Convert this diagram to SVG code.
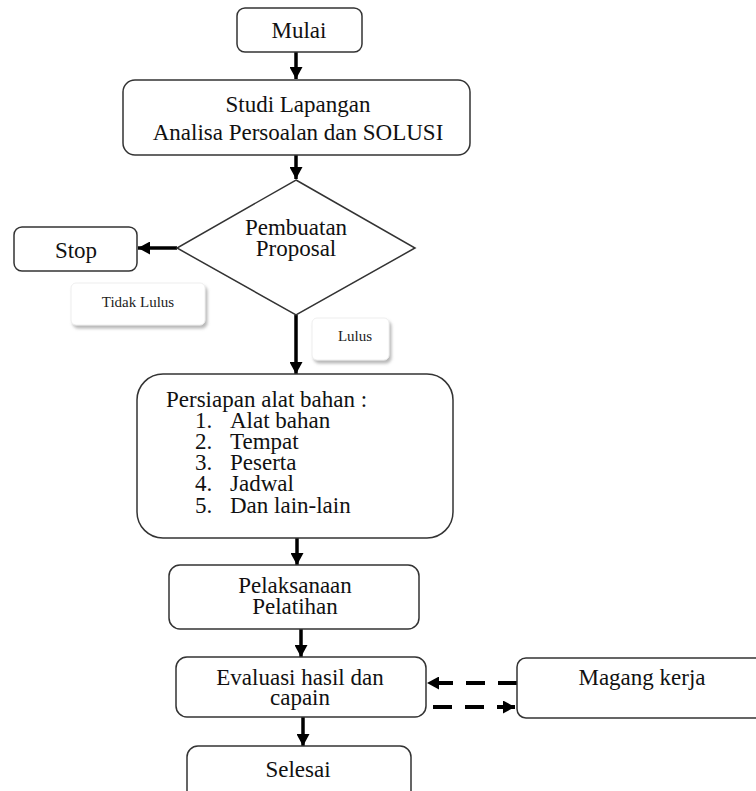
<svg xmlns="http://www.w3.org/2000/svg" width="756" height="791" viewBox="0 0 756 791">
<style>
.box{fill:#fff;stroke:#333;stroke-width:1.5}
.t{font-family:"Liberation Serif","Times New Roman",serif;font-size:23px;fill:#111}
.lbl{font-family:"Liberation Serif","Times New Roman",serif;font-size:15px;fill:#222}
.ar{stroke:#000;stroke-width:3.5;fill:none}
.da{stroke:#000;stroke-width:4;fill:none;stroke-dasharray:19 13}
.lb{fill:#fff;stroke:#eee;stroke-width:1}
</style>
<defs>
<marker id="ah" markerUnits="userSpaceOnUse" markerWidth="13" markerHeight="13" refX="12" refY="6.5" orient="auto">
<path d="M0,0 L12,6.5 L0,13 z" fill="#000"/>
</marker>
<filter id="sh" x="-10%" y="-10%" width="130%" height="140%">
<feDropShadow dx="2" dy="3" stdDeviation="1.5" flood-color="#888" flood-opacity="0.6"/>
</filter>
</defs>
<g id="connectors">
<line class="ar" x1="296" y1="52" x2="296" y2="79" marker-end="url(#ah)"/>
<line class="ar" x1="296" y1="155" x2="296" y2="179" marker-end="url(#ah)"/>
<line class="ar" x1="177" y1="248" x2="138" y2="248" marker-end="url(#ah)"/>
<line class="ar" x1="296" y1="315" x2="296" y2="374" marker-end="url(#ah)"/>
<line class="ar" x1="297" y1="538" x2="297" y2="565" marker-end="url(#ah)"/>
<line class="ar" x1="301" y1="629" x2="301" y2="657" marker-end="url(#ah)"/>
<line class="ar" x1="303" y1="717" x2="303" y2="746" marker-end="url(#ah)"/>
<line class="da" x1="517" y1="683" x2="427" y2="683" marker-end="url(#ah)"/>
<line class="da" x1="433" y1="707" x2="515" y2="707" marker-end="url(#ah)"/>
</g>
<g id="mulai">
<rect class="box" x="237" y="8" width="125" height="44" rx="8"/>
<text class="t" x="299" y="38" text-anchor="middle">Mulai</text>
</g>
<g id="studi">
<rect class="box" x="123" y="80" width="347" height="75" rx="12"/>
<text class="t" x="298" y="112" text-anchor="middle">Studi Lapangan</text>
<text class="t" x="298" y="140" text-anchor="middle">Analisa Persoalan dan SOLUSI</text>
</g>
<g id="proposal">
<polygon class="box" points="296,180 415,248 296,315 177,248"/>
<text class="t" x="296" y="235" text-anchor="middle">Pembuatan</text>
<text class="t" x="296" y="256" text-anchor="middle">Proposal</text>
</g>
<g id="stop">
<rect class="box" x="14" y="227" width="123" height="44" rx="8"/>
<text class="t" x="76" y="258" text-anchor="middle">Stop</text>
</g>
<g id="label-tidak-lulus">
<rect class="lb" x="71" y="283" width="134" height="42" rx="5" filter="url(#sh)"/>
<text class="lbl" x="138" y="307" text-anchor="middle">Tidak Lulus</text>
</g>
<g id="label-lulus">
<rect class="lb" x="312" y="318" width="77" height="42" rx="5" filter="url(#sh)"/>
<text class="lbl" x="355" y="341" text-anchor="middle">Lulus</text>
</g>
<g id="persiapan">
<rect class="box" x="137" y="374" width="316" height="164" rx="26"/>
<text class="t" x="166" y="407">Persiapan alat bahan :</text>
<text class="t" x="195" y="428">1.</text><text class="t" x="230" y="428">Alat bahan</text>
<text class="t" x="195" y="449">2.</text><text class="t" x="230" y="449">Tempat</text>
<text class="t" x="195" y="470">3.</text><text class="t" x="230" y="470">Peserta</text>
<text class="t" x="195" y="491">4.</text><text class="t" x="230" y="491">Jadwal</text>
<text class="t" x="195" y="513">5.</text><text class="t" x="230" y="513">Dan lain-lain</text>
</g>
<g id="pelaksanaan">
<rect class="box" x="169" y="565" width="250" height="64" rx="11"/>
<text class="t" x="295" y="593" text-anchor="middle">Pelaksanaan</text>
<text class="t" x="295" y="614" text-anchor="middle">Pelatihan</text>
</g>
<g id="evaluasi">
<rect class="box" x="176" y="657" width="250" height="60" rx="11"/>
<text class="t" x="300" y="685" text-anchor="middle">Evaluasi hasil dan</text>
<text class="t" x="300" y="705" text-anchor="middle">capain</text>
</g>
<g id="magang">
<rect class="box" x="517" y="658" width="260" height="60" rx="9"/>
<text class="t" x="642" y="685" text-anchor="middle">Magang kerja</text>
</g>
<g id="selesai">
<rect class="box" x="187" y="746" width="224" height="60" rx="11"/>
<text class="t" x="298" y="777" text-anchor="middle">Selesai</text>
</g>
</svg>
